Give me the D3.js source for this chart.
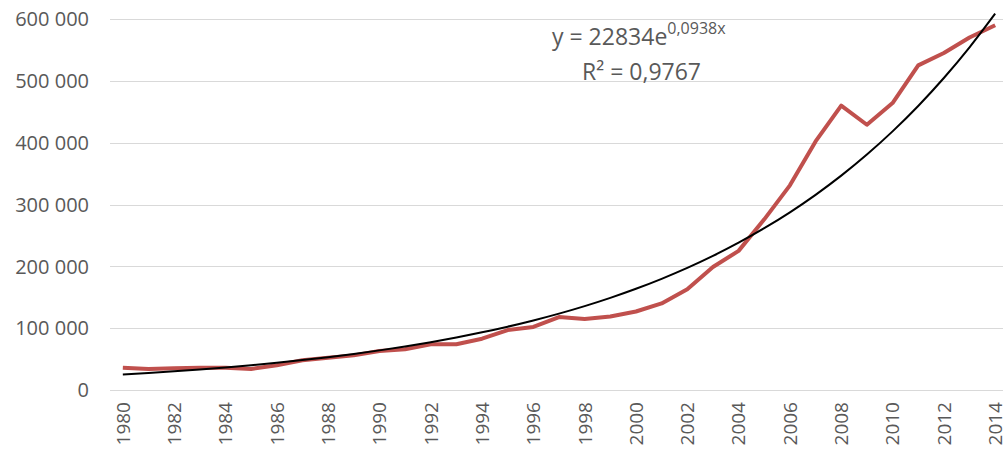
<!DOCTYPE html>
<html>
<head>
<meta charset="utf-8">
<script src="https://cdn.jsdelivr.net/npm/d3@7"></script>
<style>
  body { margin: 0; background: #fff; }
  svg text { font-family: "Open Sans", "Liberation Sans", sans-serif; fill: #595959; }
</style>
</head>
<body>
<svg width="1003" height="454"></svg>
<script>
// years on the category axis
var years = d3.range(1980, 2015);

var values = [36000, 34000, 35000, 36000, 36000, 34000, 40000, 48000, 52000, 56000,
              63000, 66000, 74000, 74000, 83000, 97000, 102000, 118000, 115000, 119000,
              127000, 140000, 163000, 199000, 225000, 276000, 331000, 402000, 460000, 429000,
              464000, 525000, 545000, 570000, 590000];

// exponential trendline, as printed on the chart: y = a * e^(b*x), x = 1..n
var trendA = 22834, trendB = 0.0938;

var yTicks = [0, 100000, 200000, 300000, 400000, 500000, 600000];
var xTickYears = years.filter(function(d){ return d % 2 === 0; });

var svg = d3.select("svg");
var plotLeft = 110, plotRight = 1008, plotTop = 19, plotBottom = 390;

var x = d3.scalePoint().domain(years).range([plotLeft, plotRight]).padding(0.5);
var y = d3.scaleLinear().domain([0, 600000]).range([plotBottom, plotTop]);

var fmt = function(d){ return d3.format(",")(d).replace(/,/g, " "); };

// gridlines
svg.append("g")
  .selectAll("line")
  .data(yTicks)
  .enter().append("line")
  .attr("x1", plotLeft).attr("x2", 1003)
  .attr("y1", function(d){ return Math.round(y(d)) + 0.5; })
  .attr("y2", function(d){ return Math.round(y(d)) + 0.5; })
  .attr("stroke", "#d9d9d9")
  .attr("stroke-width", 1);

// y labels
svg.append("g")
  .selectAll("text")
  .data(yTicks)
  .enter().append("text")
  .attr("x", 89)
  .attr("y", function(d){ return y(d); })
  .attr("dy", "0.36em")
  .attr("text-anchor", "end")
  .attr("font-size", 20)
  .text(fmt);

// x labels, rotated
svg.append("g")
  .selectAll("text")
  .data(xTickYears)
  .enter().append("text")
  .attr("transform", function(d){ return "translate(" + x(d) + ",402) rotate(-90)"; })
  .attr("dy", "0.36em")
  .attr("text-anchor", "end")
  .attr("font-size", 19)
  .text(function(d){ return d; });

var line = d3.line()
  .x(function(d){ return x(d[0]); })
  .y(function(d){ return y(d[1]); });

svg.append("path")
  .datum(years.map(function(yr, i){ return [yr, values[i]]; }))
  .attr("fill", "none")
  .attr("stroke", "#C0504D")
  .attr("stroke-width", 4)
  .attr("stroke-linejoin", "round")
  .attr("d", line);

// trendline through the printed equation
var trend = years.map(function(yr, i){ return [yr, trendA * Math.exp(trendB * (i + 1))]; });
svg.append("path")
  .datum(trend)
  .attr("fill", "none")
  .attr("stroke", "#000")
  .attr("stroke-width", 2)
  .attr("d", line.curve(d3.curveMonotoneX));

// equation label
var eq = svg.append("text").attr("x", 552).attr("y", 45).attr("font-size", 23);
eq.append("tspan").text("y = 22834e");
eq.append("tspan").attr("dy", -11).attr("font-size", 16).text("0,0938x");

svg.append("text")
  .attr("x", 582).attr("y", 80)
  .attr("font-size", 23)
  .text("R² = 0,9767");
</script>
</body>
</html>
